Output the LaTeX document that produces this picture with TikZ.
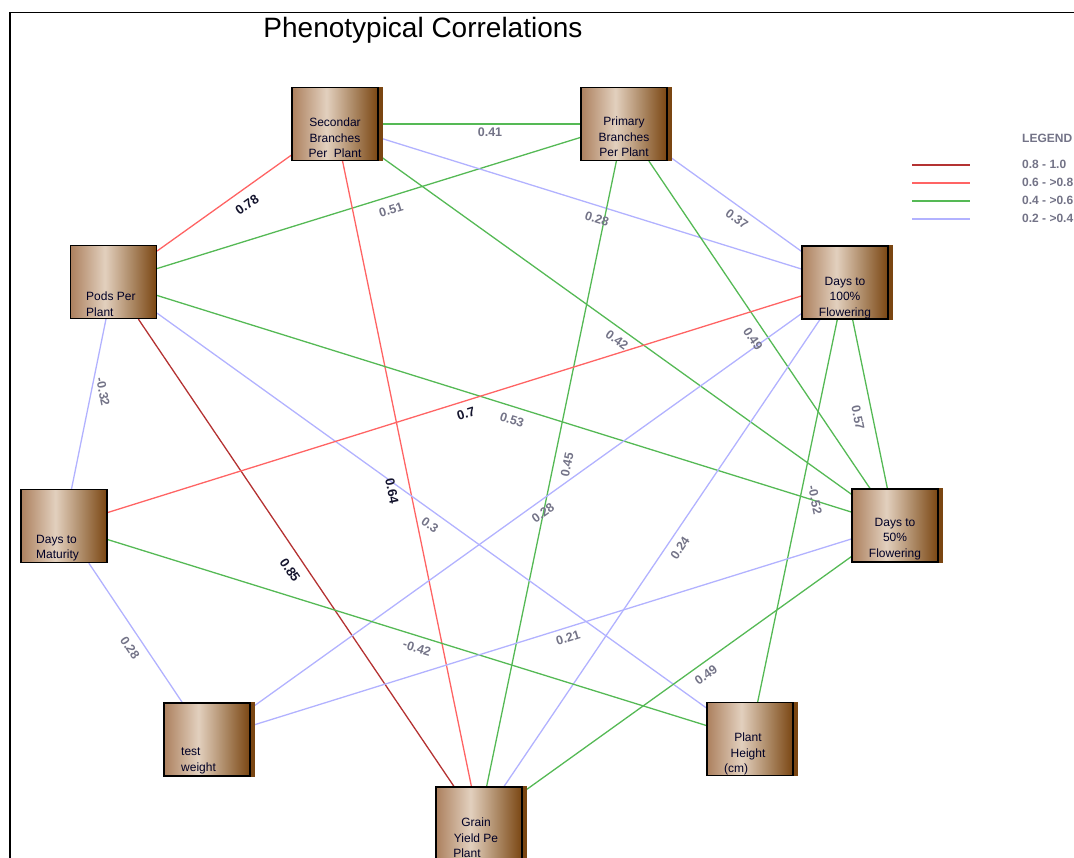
\documentclass[tikz,border=0pt]{standalone}
\usepackage{fontspec}
\setmainfont{Liberation Sans}
\usetikzlibrary{backgrounds}
\definecolor{bxl}{RGB}{172,128,94}
\definecolor{bxm}{RGB}{226,208,190}
\definecolor{bxr}{RGB}{122,70,18}
\definecolor{cdred}{RGB}{180,50,50}
\definecolor{clred}{RGB}{255,100,100}
\definecolor{cgreen}{RGB}{85,185,85}
\definecolor{cblue}{RGB}{178,178,255}
\definecolor{lblgray}{RGB}{115,115,135}
\definecolor{lblblack}{RGB}{20,20,45}
\pgfdeclarehorizontalshading{boxshade}{100bp}{color(0bp)=(bxl); color(25bp)=(bxl); color(45bp)=(bxm); color(75bp)=(bxr); color(100bp)=(bxr)}
\begin{document}
\begin{tikzpicture}[x=1pt,y=-1pt,
  box/.style={draw=black, line width=1.2pt, shade, shading=boxshade, minimum width=86pt, minimum height=73pt, inner sep=0pt},
  strip/.style={fill=bxr},
  ntext/.style={font=\fontsize{12}{15.5}\selectfont, inner sep=0pt, text=black!85!blue},
  elbl/.style={font=\fontsize{12.5}{13}\selectfont\bfseries, text=lblgray, inner sep=0pt},
  blbl/.style={font=\fontsize{13}{14}\selectfont\bfseries, text=lblblack, inner sep=0pt},
  rdark/.style={draw=cdred, line width=1.3pt},
  rlight/.style={draw=clred, line width=1.3pt},
  rgreen/.style={draw=cgreen, line width=1.3pt},
  rblue/.style={draw=cblue, line width=1.3pt},
  legtxt/.style={font=\fontsize{12}{13}\selectfont\bfseries, text=lblgray, inner sep=0pt, anchor=west}
]
\useasboundingbox (0,0) rectangle (1074,858);
% frame
\draw[line width=1.5pt] (10,870) -- (10,12.5) -- (1090,12.5);
% title
\node[font=\fontsize{28}{30}\selectfont, inner sep=0pt] (title) at (423,30) {Phenotypical Correlations};

% boxes
\node[box] (sec) at (335,124) {};
\node[box] (prim) at (624,124) {};
\node[box] (pods) at (113.5,282) {};
\node[box] (d100) at (845,282.5) {};
\node[box] (mat) at (64,526) {};
\node[box] (d50) at (895,525.5) {};
\node[box] (tw) at (207,739.5) {};
\node[box] (ph) at (750,739) {};
\node[box] (grain) at (479,823.5) {};
\foreach \n in {sec,prim,d100,d50,tw,ph,grain}{
  \fill[strip] ([xshift=0.6pt]\n.north east) rectangle ([xshift=4pt]\n.south east);
}

% box texts
\node[ntext, align=center, anchor=north] (sec-t) at (335,118) {Secondar\\Branches\\Per\ \ Plant};
\node[ntext, align=center, anchor=north] (prim-t) at (624,117) {Primary\\Branches\\Per Plant};
\node[ntext, align=left, anchor=north west] (pods-t) at (86,292) {Pods Per\\Plant};
\node[ntext, align=center, anchor=north] (d100-t) at (845,277) {Days to\\100\%\\Flowering};
\node[ntext, align=left, anchor=north west] (mat-t) at (36,535) {Days to\\Maturity};
\node[ntext, align=center, anchor=north] (d50-t) at (895,518) {Days to\\50\%\\Flowering};
\node[ntext, align=left, anchor=north west] (tw-t) at (181,748) {test\\weight};
\node[ntext, align=center, anchor=north] (ph-t) at (748,733) {Plant\\Height\\(cm)\hspace*{24pt}};
\node[ntext, align=center, anchor=north] (grain-t) at (476,818) {Grain\\Yield Pe\\Plant\hspace*{18pt}};

% connectors
\begin{pgfonlayer}{background}
\draw[rgreen] (sec) -- (prim);
\draw[rlight] (sec) -- (pods);
\draw[rgreen] (prim) -- (pods);
\draw[rblue] (sec) -- (d100);
\draw[rblue] (prim) -- (d100);
\draw[rlight] (sec) -- (grain);
\draw[rgreen] (sec) -- (d50);
\draw[rgreen] (prim) -- (grain);
\draw[rgreen] (prim) -- (d50);
\draw[rgreen] (pods) -- (d50);
\draw[rblue] (pods) -- (ph);
\draw[rdark] (pods) -- (grain);
\draw[rblue] (pods) -- (mat);
\draw[rlight] (d100) -- (mat);
\draw[rblue] (d100) -- (tw);
\draw[rblue] (d100) -- (grain);
\draw[rgreen] (d100) -- (d50);
\draw[rgreen] (d100) -- (ph);
\draw[rblue] (mat) -- (tw);
\draw[rgreen] (mat) -- (ph);
\draw[rblue] (d50) -- (tw);
\draw[rgreen] (d50) -- (grain);
\end{pgfonlayer}

% connector labels
\node[elbl] (l1) at (490,132) {0.41};
\node[blbl, rotate=35.4] (l2) at (247,205) {0.78};
\node[elbl, rotate=17.2] (l3) at (391,210) {0.51};
\node[elbl, rotate=-17.2] (l4) at (597,219) {0.28};
\node[elbl, rotate=-35.6] (l5) at (737,219) {0.37};
\node[blbl, rotate=-78.4] (l6) at (392,491) {0.64};
\node[elbl, rotate=-35.7] (l7) at (617,340) {0.42};
\node[elbl, rotate=78.3] (l8) at (567,465) {0.45};
\node[elbl, rotate=-56] (l9) at (753,339) {0.49};
\node[elbl, rotate=-17.3] (l10) at (512,420) {0.53};
\node[elbl, rotate=-35.7] (l11) at (430,525) {0.3};
\node[blbl, rotate=-55.9] (l12) at (290,570) {0.85};
\node[elbl, rotate=-78.6] (l13) at (103,392) {-0.32};
\node[blbl, rotate=17.3] (l14) at (466,414) {0.7};
\node[elbl, rotate=35.7] (l15) at (543,513) {0.28};
\node[elbl, rotate=55.9] (l16) at (680,548) {0.24};
\node[elbl, rotate=-78.4] (l17) at (858,418) {0.57};
\node[elbl, rotate=-78.3] (l18) at (815,500) {-0.52};
\node[elbl, rotate=-56.3] (l19) at (130,648) {0.28};
\node[elbl, rotate=-17.2] (l20) at (417,648) {-0.42};
\node[elbl, rotate=17.3] (l21) at (568,638) {0.21};
\node[elbl, rotate=35.5] (l22) at (706,675) {0.49};

% legend
\node[legtxt] (leg) at (1022,138) {LEGEND};
\draw[rdark] (912,165) -- (970,165);
\draw[rlight] (912,183) -- (970,183);
\draw[rgreen] (912,201) -- (970,201);
\draw[rblue] (912,219) -- (970,219);
\node[legtxt] (leg1) at (1022,164) {0.8 - 1.0};
\node[legtxt] (leg2) at (1022,182) {0.6 - >0.8};
\node[legtxt] (leg3) at (1022,200) {0.4 - >0.6};
\node[legtxt] (leg4) at (1022,218) {0.2 - >0.4};
\end{tikzpicture}
\end{document}
